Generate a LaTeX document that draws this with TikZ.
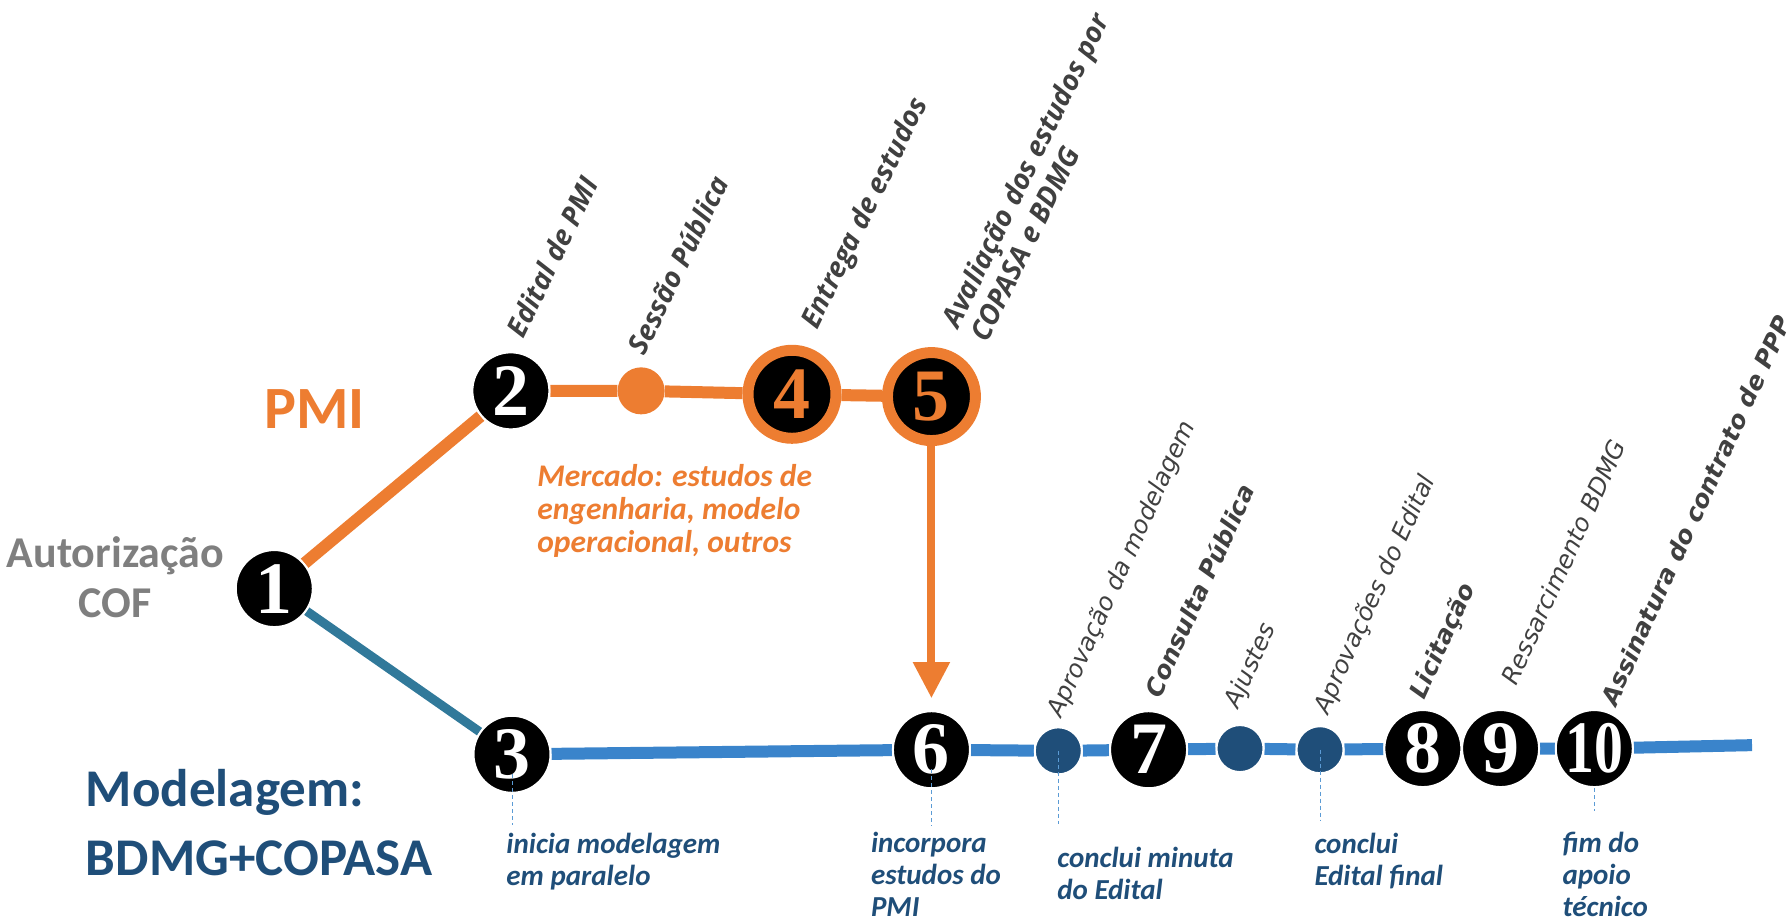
\documentclass[tikz,border=0pt]{standalone}
\usepackage{fontspec}
\setmainfont{Carlito}
\newfontfamily\tagfont{Open Sans}
\newfontfamily\stepfont{DejaVu Sans}
\newfontfamily\numfont{Liberation Serif}
\usepackage{tikz}
\usetikzlibrary{calc}
\usetikzlibrary{shapes}
\usetikzlibrary{arrows.meta}
\usetikzlibrary{backgrounds}

\definecolor{pmiorange}{HTML}{ED7D31}
\definecolor{modblue}{HTML}{1F4E79}
\definecolor{lineblue}{HTML}{3A84CB}
\definecolor{tealline}{HTML}{31799A}
\definecolor{autgray}{HTML}{7F7F7F}
\definecolor{labelgray}{HTML}{404040}
\definecolor{guideblue}{HTML}{5B9BD5}

\begin{document}
\begin{tikzpicture}[x=1.142857pt, y=-1.142857pt,
  stage/.style={circle, fill=black, draw=white, line width=2pt, minimum size=77pt, inner sep=0pt, text=white, font=\numfont\bfseries\fontsize{74}{74}\selectfont},
  pmistage/.style={stage, draw=pmiorange, line width=11pt, minimum size=88pt, text=pmiorange},
  modstep/.style={circle, fill=modblue, draw=white, line width=2pt, minimum size=47pt, inner sep=0pt},
  pmistep/.style={circle, fill=pmiorange, minimum size=47pt, inner sep=0pt},
  toplabel/.style={rotate=64, anchor=base west, inner sep=0pt, align=left, text=labelgray, font=\tagfont\bfseries\itshape\fontsize{28}{32}\selectfont},
  steplabel/.style={rotate=65.5, anchor=base west, inner sep=0pt, text=labelgray, font=\stepfont\itshape\fontsize{24.5}{30}\selectfont},
  keylabel/.style={steplabel, font=\stepfont\bfseries\itshape\fontsize{24.6}{30}\selectfont},
  note/.style={anchor=north west, inner sep=0pt, align=left, text=modblue, font=\bfseries\itshape\fontsize{29}{32}\selectfont},
  guide/.style={draw=guideblue, line width=1pt, dash pattern=on 4pt off 3pt}]
\useasboundingbox (0,0) rectangle (1568,802);

\node (n1) at (240,515) [stage] {1};
\node (n2) at (447,342) [stage] {2};
\node (sess) at (561,342) [pmistep] {};
\node (n4) at (693,345) [pmistage] {4};
\node (n5) at (815,347) [pmistage] {5};
\node (n3) at (448,660) [stage] {3};
\node (n6) at (815,656) [stage] {6};
\node (aprov) at (926,657) [modstep] {};
\node (n7) at (1005,656) [stage] {7};
\node (ajust) at (1085,655) [modstep] {};
\node (edit) at (1155,656) [modstep] {};
\node (n8) at (1245,655) [stage] {8};
\node (n9) at (1313,655) [stage] {9};
\node (n10) at (1395,655) [stage] {\makebox[0pt]{\scalebox{0.78}[1]{10}}};
\coordinate (tail) at (1533,652);

\begin{scope}[on background layer]
\draw [pmiorange, line width=12pt] (n1) -- (n2) -- (sess) -- (n4) -- (n5);
\draw [tealline, line width=9pt] (n1) -- (n3);
\draw [lineblue, line width=12pt] (n3) -- (n6) -- (aprov) -- (n7) -- (ajust) -- (edit) -- (n8) -- (n9) -- (n10) -- (tail);
\draw [pmiorange, line width=8pt, -{Triangle[length=36pt, width=35pt]}, shorten >=12pt] (n5) -- (n6);
\end{scope}

\coordinate (g3) at (448,722);
\coordinate (g6) at (815,723);
\coordinate (gaprov) at (926,721);
\coordinate (gedit) at (1155,718);
\coordinate (g10) at (1395,710);
\draw [guide] ($(n3.center)!0.5!(n3.south)$) -- (g3);
\draw [guide] ($(n6.center)!0.5!(n6.south)$) -- (g6);
\draw [guide] (aprov.center) -- (gaprov);
\draw [guide] (edit.center) -- (gedit);
\draw [guide] (n10.south) -- (g10);

\node (pmi) at (275,358) [text=pmiorange, font=\bfseries\fontsize{60}{60}\selectfont] {PMI};
\node (cof) at (101,505) [align=center, text=autgray, font=\bfseries\fontsize{44}{50}\selectfont] {Autorização\\COF};
\node (mod) at (75,720) [anchor=west, inner sep=0pt, align=left, text=modblue, font=\bfseries\fontsize{53}{69}\selectfont] {Modelagem:\\BDMG+COPASA};
\node (merc) at (470,406) [anchor=north west, inner sep=0pt, align=left, text=pmiorange, font=\bfseries\itshape\fontsize{31.5}{33}\selectfont] {Mercado: estudos de\\engenharia, modelo\\operacional, outros};

\node (l2) at (458,297) [toplabel] {Edital de PMI};
\node (lsess) at (564,312) [toplabel] {Sessão Pública};
\node (l4) at (715,289) [toplabel] {Entrega de estudos};
\node (l5) at (864,301) [toplabel] {Avaliação dos estudos por\\COPASA e BDMG};
\node (laprov) at (929,629) [steplabel] {Aprovação da modelagem};
\node (l7) at (1015,612) [keylabel] {Consulta Pública};
\node (lajust) at (1084,621) [steplabel] {Ajustes};
\node (ledit) at (1162,626) [steplabel] {Aprovações do Edital};
\node (l8) at (1246,613) [keylabel] {Licitação};
\node (l9) at (1327,601) [steplabel] {Ressarcimento BDMG};
\node (l10) at (1414,619) [keylabel] {Assinatura do contrato de PPP};

\node (t3) at (443,729) [note] {inicia modelagem\\em paralelo};
\node (t6) at (762,728) [note] {incorpora\\estudos do\\PMI};
\node (taprov) at (925,741) [note] {conclui minuta\\do Edital};
\node (tedit) at (1150,729) [note] {conclui\\Edital final};
\node (t10) at (1367,728) [note] {fim do\\apoio\\técnico};
\end{tikzpicture}
\end{document}
